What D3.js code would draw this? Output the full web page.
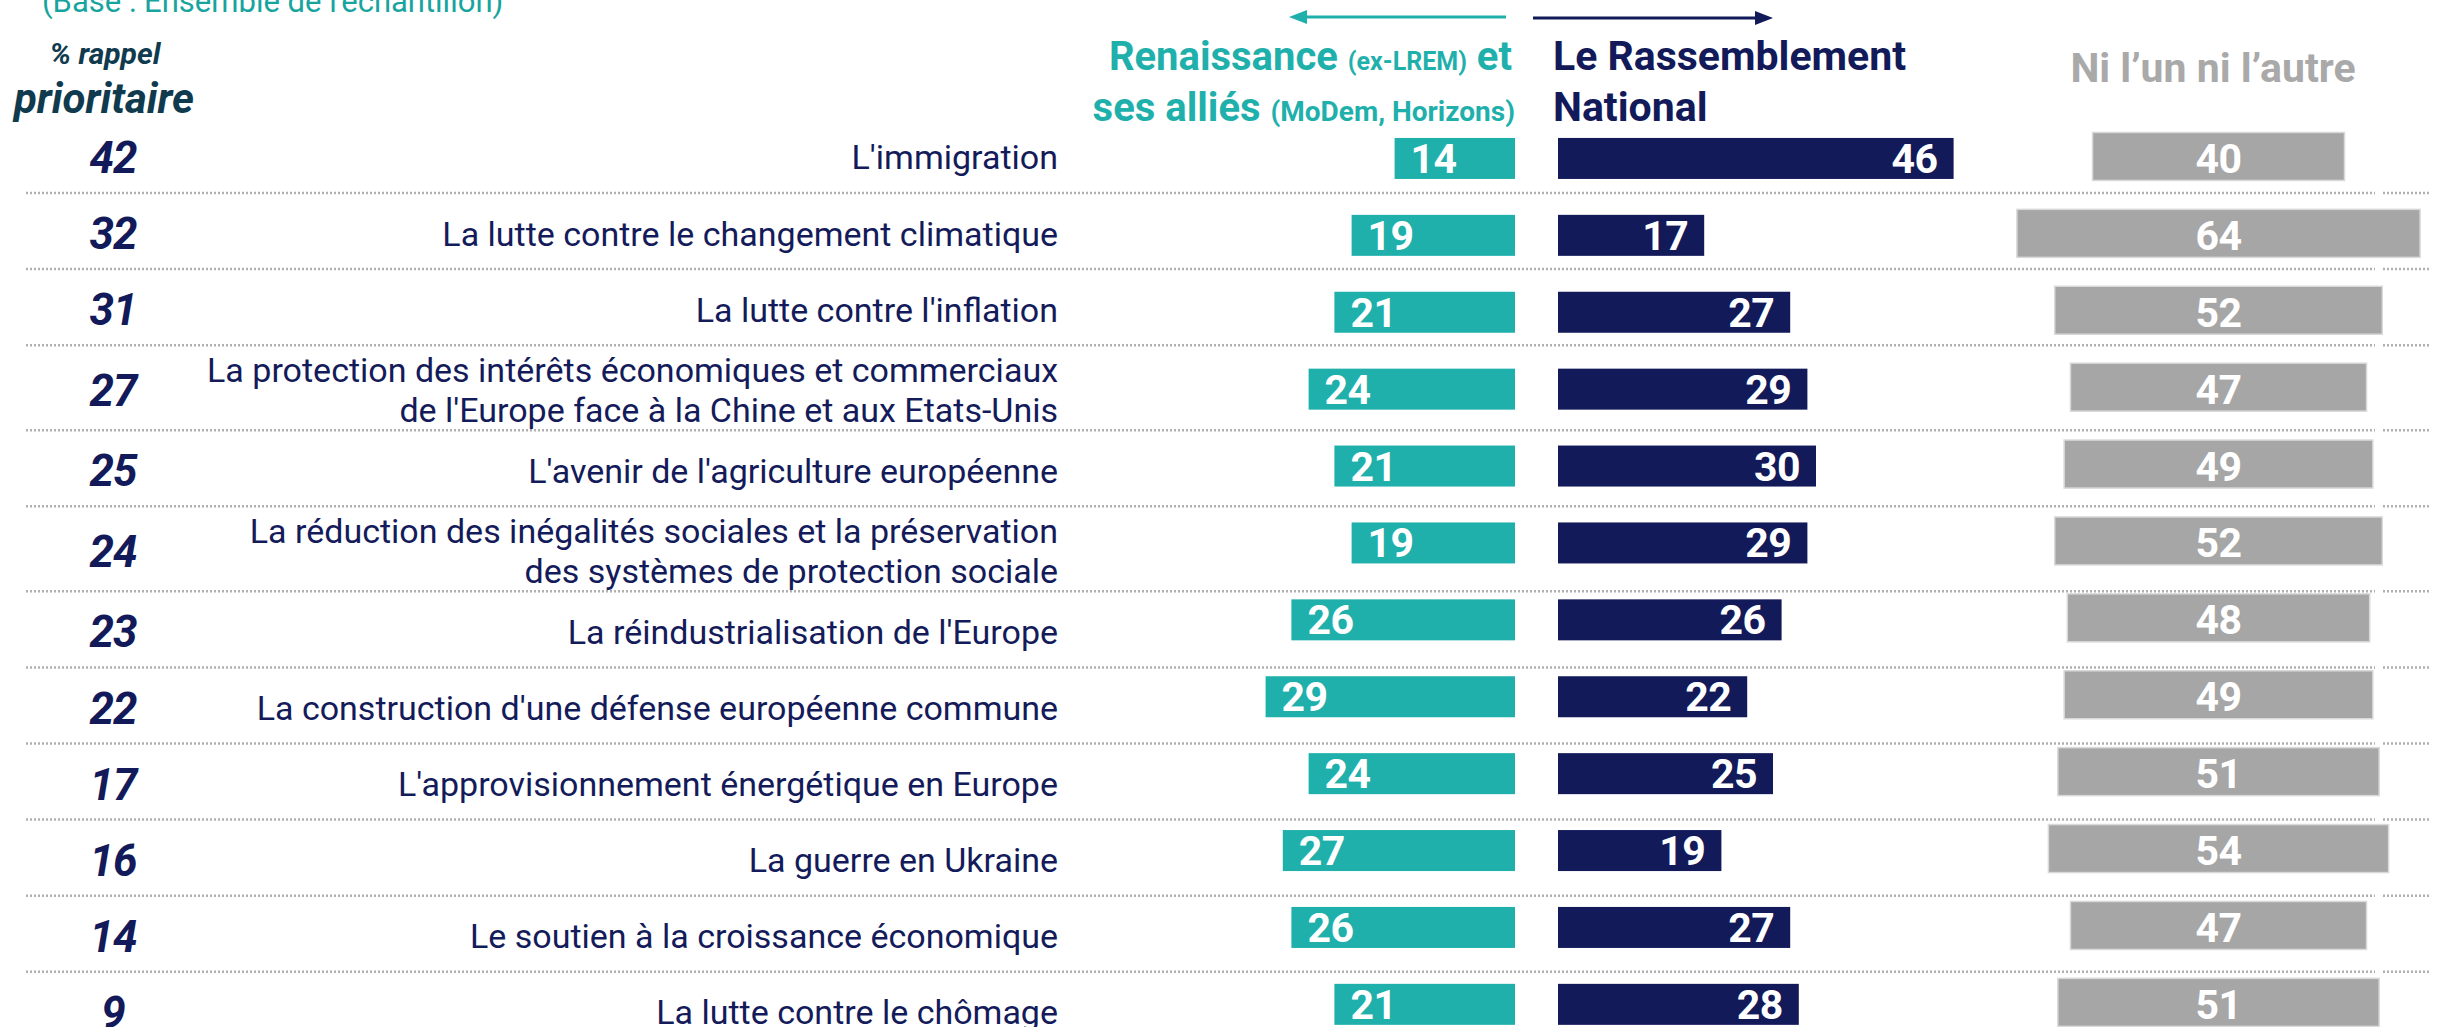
<!DOCTYPE html>
<html lang="fr">
<head>
  <meta charset="UTF-8">
  <title>Enjeux prioritaires - partis</title>
  <script src="https://cdnjs.cloudflare.com/ajax/libs/d3/7.8.5/d3.min.js"></script>
  <style>
    body {
      margin: 0;
      background: white;
    }
    svg {
      display: block;
      background: white;
      font-family: Roboto, "Noto Sans", sans-serif;
    }
  </style>
</head>
<body>
  <script>
    // donnees
    var categories = [
      "L'immigration",
      "La lutte contre le changement climatique",
      "La lutte contre l'inflation",
      "La protection des intérêts économiques et commerciaux\nde l'Europe face à la Chine et aux Etats-Unis",
      "L'avenir de l'agriculture européenne",
      "La réduction des inégalités sociales et la préservation\ndes systèmes de protection sociale",
      "La réindustrialisation de l'Europe",
      "La construction d'une défense européenne commune",
      "L'approvisionnement énergétique en Europe",
      "La guerre en Ukraine",
      "Le soutien à la croissance économique",
      "La lutte contre le chômage"
    ];
    var rappel = [42, 32, 31, 27, 25, 24, 23, 22, 17, 16, 14, 9];
    var renaissance = [14, 19, 21, 24, 21, 19, 26, 29, 24, 27, 26, 21];
    var rassemblement = [46, 17, 27, 29, 30, 29, 26, 22, 25, 19, 27, 28];
    var niNi = [40, 64, 52, 47, 49, 52, 48, 49, 51, 54, 47, 51];

    var w = 2440;
    var h = 1027;

    var teal = "#1fb0ac";
    var navy = "#131a59";
    var grey = "#a6a6a6";

    var svg = d3.select("body").append("svg")
      .attr("width", w)
      .attr("height", h);

    var idx = d3.range(categories.length);

    // bandes des barres
    var yBand = d3.scaleBand()
      .domain(idx)
      .range([120, 120 + categories.length * 76.9]);

    var xLeft = d3.scaleLinear().domain([0, 100]).range([1515, 1515 - 860]);
    var xRight = d3.scaleLinear().domain([0, 100]).range([1558, 1558 + 860]);
    var wGrey = d3.scaleLinear().domain([0, 100]).range([0, 630]);
    var greyCenter = 2218.5;

    function barMid(i) {
      return yBand(i) + yBand.bandwidth() / 2;
    }

    // lignes du tableau de texte (hauteur selon nb de lignes)
    var rows = [];
    var yy = 116.9;
    categories.forEach(function(c) {
      var n = c.split("\n").length;
      var rh = n > 1 ? 85 : 76.1;
      rows.push({ top: yy, bottom: yy + rh, mid: yy + rh / 2 + 2.5, lines: c.split("\n") });
      yy += rh;
    });

    // sous-titre (coupe en haut)
    svg.append("text")
      .attr("x", 42)
      .attr("y", 12)
      .attr("font-size", 31)
      .attr("fill", "#18a49e")
      .text("(Base : Ensemble de l'échantillon)");

    // en-tete gauche
    svg.append("text")
      .attr("x", 105).attr("y", 64)
      .attr("text-anchor", "middle")
      .attr("font-size", 30)
      .attr("font-weight", 700)
      .attr("font-style", "italic")
      .attr("fill", "#103a4e")
      .text("% rappel");
    svg.append("text")
      .attr("x", 104).attr("y", 113)
      .attr("text-anchor", "middle")
      .attr("font-size", 42)
      .attr("font-weight", 700)
      .attr("font-style", "italic")
      .attr("fill", "#103a4e")
      .text("prioritaire");

    // fleches
    svg.append("line")
      .attr("x1", 1506).attr("x2", 1302)
      .attr("y1", 17).attr("y2", 17)
      .attr("stroke", teal).attr("stroke-width", 3);
    svg.append("path")
      .attr("d", "M1289,17 L1307,10 L1307,24 Z")
      .attr("fill", teal);
    svg.append("line")
      .attr("x1", 1533).attr("x2", 1758)
      .attr("y1", 18).attr("y2", 18)
      .attr("stroke", navy).attr("stroke-width", 3);
    svg.append("path")
      .attr("d", "M1773,18 L1755,11 L1755,25 Z")
      .attr("fill", navy);

    // en-tetes des series
    var h1 = svg.append("text")
      .attr("x", 1512).attr("y", 70)
      .attr("text-anchor", "end")
      .attr("font-weight", 700)
      .attr("fill", teal);
    h1.append("tspan").attr("font-size", 40).text("Renaissance ");
    h1.append("tspan").attr("font-size", 25).text("(ex-LREM)");
    h1.append("tspan").attr("font-size", 40).text(" et");

    var h2 = svg.append("text")
      .attr("x", 1515).attr("y", 121)
      .attr("text-anchor", "end")
      .attr("font-weight", 700)
      .attr("fill", teal);
    h2.append("tspan").attr("font-size", 40).text("ses alliés ");
    h2.append("tspan").attr("font-size", 28).text("(MoDem, Horizons)");

    svg.append("text")
      .attr("x", 1553).attr("y", 70)
      .attr("font-size", 41).attr("font-weight", 700)
      .attr("fill", navy)
      .text("Le Rassemblement");
    svg.append("text")
      .attr("x", 1553).attr("y", 121)
      .attr("font-size", 41).attr("font-weight", 700)
      .attr("fill", navy)
      .text("National");

    svg.append("text")
      .attr("x", 2213).attr("y", 82)
      .attr("text-anchor", "middle")
      .attr("font-size", 41).attr("font-weight", 700)
      .attr("fill", "#a9a9a9")
      .text("Ni l\u2019un ni l\u2019autre");

    // separateurs pointilles
    var seps = svg.append("g")
      .attr("stroke", "#b0b0b0")
      .attr("stroke-width", 2.5)
      .attr("stroke-dasharray", "2,2");
    rows.slice(0, -1).forEach(function(r) {
      seps.append("line")
        .attr("x1", 26).attr("x2", 2375)
        .attr("y1", r.bottom).attr("y2", r.bottom);
      seps.append("line")
        .attr("x1", 2383).attr("x2", 2429)
        .attr("y1", r.bottom).attr("y2", r.bottom);
    });

    // % rappel prioritaire
    svg.append("g").selectAll("text")
      .data(rappel)
      .enter()
      .append("text")
      .attr("x", 113)
      .attr("y", function(d, i) { return rows[i].mid + 15.6; })
      .attr("text-anchor", "middle")
      .attr("font-size", 44)
      .attr("font-weight", 700)
      .attr("font-style", "italic")
      .attr("letter-spacing", -1)
      .attr("fill", navy)
      .text(function(d) { return d; });

    // libelles
    var lab = svg.append("g").selectAll("text")
      .data(rows)
      .enter()
      .append("text")
      .attr("text-anchor", "end")
      .attr("font-size", 34)
      .attr("fill", "#141b5a");
    lab.selectAll("tspan")
      .data(function(r) {
        return r.lines.map(function(l, k) {
          return { t: l, y: r.mid + 12 + (k - (r.lines.length - 1) / 2) * 40 };
        });
      })
      .enter()
      .append("tspan")
      .attr("x", 1058)
      .attr("y", function(d) { return d.y; })
      .text(function(d) { return d.t; });

    var barH = 41;

    // barres Renaissance
    svg.append("g").selectAll("rect")
      .data(renaissance)
      .enter()
      .append("rect")
      .attr("x", function(d) { return xLeft(d); })
      .attr("y", function(d, i) { return barMid(i) - barH / 2; })
      .attr("width", function(d) { return xLeft(0) - xLeft(d); })
      .attr("height", barH)
      .attr("fill", teal);

    // barres RN
    svg.append("g").selectAll("rect")
      .data(rassemblement)
      .enter()
      .append("rect")
      .attr("x", xRight(0))
      .attr("y", function(d, i) { return barMid(i) - barH / 2; })
      .attr("width", function(d) { return xRight(d) - xRight(0); })
      .attr("height", barH)
      .attr("fill", navy);

    // barres ni l'un ni l'autre
    svg.append("g").selectAll("rect")
      .data(niNi)
      .enter()
      .append("rect")
      .attr("x", function(d) { return greyCenter - wGrey(d) / 2; })
      .attr("y", function(d, i) { return barMid(i) - 2 - 24; })
      .attr("width", function(d) { return wGrey(d); })
      .attr("height", 48)
      .attr("fill", grey)
      .attr("stroke", "#d9d9d9")
      .attr("stroke-width", 1.5);

    // valeurs
    function values(data, xf, anchor) {
      svg.append("g").selectAll("text")
        .data(data)
        .enter()
        .append("text")
        .attr("x", xf)
        .attr("y", function(d, i) { return barMid(i) + 14.5; })
        .attr("text-anchor", anchor)
        .attr("font-size", 41)
        .attr("font-weight", 700)
        .attr("letter-spacing", -0.5)
        .attr("fill", "white")
        .text(function(d) { return d; });
    }
    values(renaissance, function(d) { return xLeft(d) + 16; }, "start");
    values(rassemblement, function(d) { return xRight(d) - 16; }, "end");
    values(niNi, function() { return greyCenter; }, "middle");
  </script>
</body>
</html>
